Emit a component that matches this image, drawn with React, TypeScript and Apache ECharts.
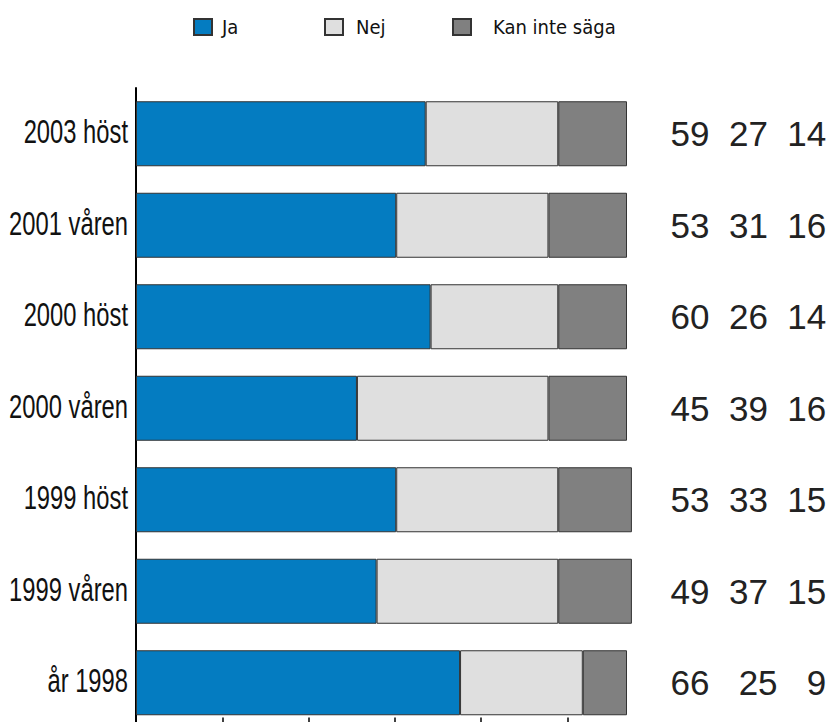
import React, { useEffect, useRef } from "react";
import * as echarts from "echarts";

const categories = ["2003 höst", "2001 våren", "2000 höst", "2000 våren", "1999 höst", "1999 våren", "år 1998"];
const ja = [59, 53, 60, 45, 53, 49, 66];
const nej = [27, 31, 26, 39, 33, 37, 25];
const kan = [14, 16, 14, 16, 15, 15, 9];
const seriesNames = ["Ja", "Nej", "Kan inte säga"];
const tickValues = [0, 17.57, 35.14, 52.71, 70.28, 87.85];

const COND = "'DejaVu Sans Condensed', sans-serif";
const REG = "'Liberation Sans', Arial, sans-serif";

export default function App() {
  const ref = useRef<HTMLDivElement>(null);
  useEffect(() => {
    if (!ref.current) return;
    const chart = echarts.init(ref.current, null, { renderer: "svg" });
    const colors = ["#047CC1", "#DFDFDF", "#808080"];
    const legendLefts = [193, 324, 452];
    const legendPads = [5, 8, 17];
    const rowText = (i: number) => {
      const sep = kan[i] < 10 ? "   " : "  ";
      return `${ja[i]}${sep}${nej[i]}${sep}${kan[i]}`;
    };
    chart.setOption({
      animation: false,
      legend: seriesNames.map((n, k) => ({
        data: [n],
        left: legendLefts[k],
        top: 17,
        padding: 0,
        itemWidth: 18,
        itemHeight: 16,
        icon: "rect",
        textStyle: {
          fontFamily: COND,
          fontSize: 20,
          color: "#111",
          padding: [0, 0, 0, legendPads[k]],
        },
      })),
      grid: { left: 136, top: 88, width: 105 * 4.91, height: 640.5, outerBoundsMode: "none", containLabel: false },
      xAxis: {
        type: "value",
        min: 0,
        max: 105,
        splitLine: { show: false },
        axisLine: { show: false },
        axisLabel: { show: false },
        axisTick: {
          show: true,
          inside: true,
          length: 11,
          customValues: tickValues,
          lineStyle: { color: "#000", width: 1.5 },
        },
      },
      yAxis: [
        {
          type: "category",
          data: categories,
          inverse: true,
          axisLine: { show: true, lineStyle: { color: "#000", width: 2 } },
          axisTick: { show: false },
          axisLabel: { show: false },
        },
        {
          type: "category",
          data: categories,
          inverse: true,
          position: "right",
          axisLine: { show: false },
          axisTick: { show: false },
          axisLabel: {
            fontFamily: REG,
            fontSize: 35,
            color: "#222",
            align: "left",
            margin: 19,
            padding: [0, 0, 5, 0],
            formatter: (_v: string, i: number) => rowText(i),
          },
        },
      ],
      series: [
        ...[ja, nej, kan].map((d, k) => ({
          name: seriesNames[k],
          type: "bar",
          stack: "total",
          data: d,
          barWidth: 65,
          itemStyle: { color: colors[k], borderColor: "#333", borderWidth: 1 },
        })),
        {
          name: "labels",
          type: "custom",
          silent: true,
          clip: false,
          data: categories.map((_c, i) => [0, i]),
          encode: { x: 0, y: 1 },
          renderItem: (params: any, api: any) => {
            const i = params.dataIndex;
            const p = api.coord([0, i]);
            return {
              type: "text",
              x: p[0] - 8,
              y: p[1] - 2,
              scaleX: 0.72,
              style: {
                text: categories[i],
                fontSize: 33,
                fontFamily: REG,
                fill: "#111",
                align: "right",
                verticalAlign: "middle",
              },
            };
          },
        },
      ],
    });
    return () => chart.dispose();
  }, []);
  return (
    <div
      ref={ref}
      style={{ position: "absolute", left: 0, top: 0, width: 839, height: 722, background: "#fff" }}
    />
  );
}
